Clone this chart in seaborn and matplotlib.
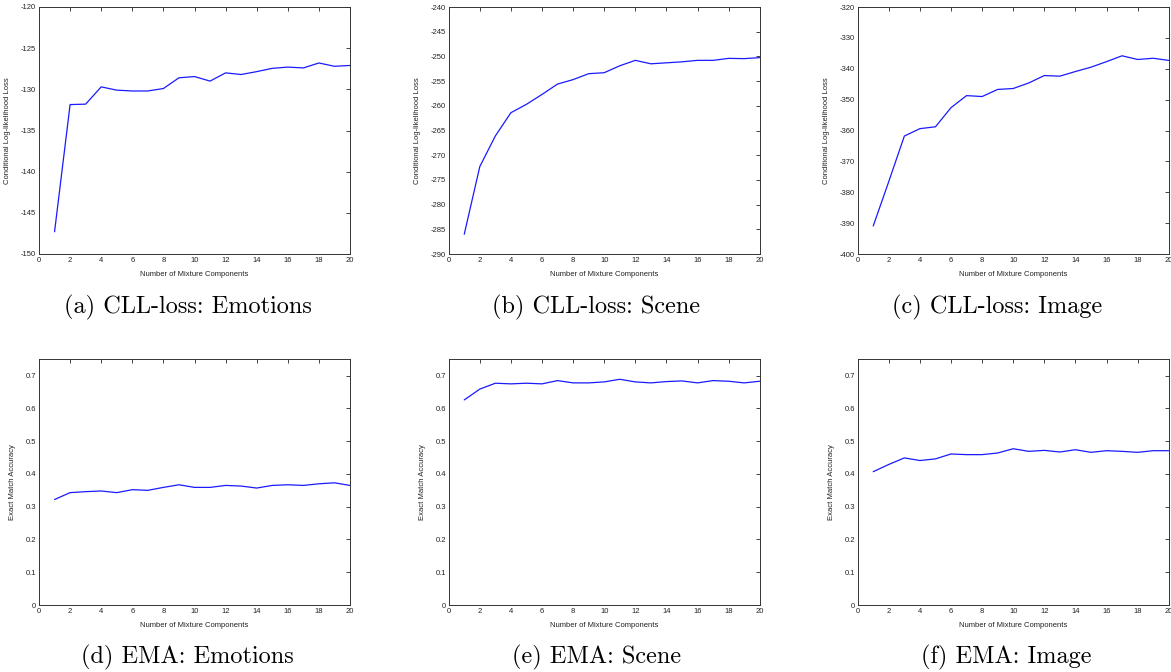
import matplotlib
matplotlib.use("Agg")
import matplotlib.pyplot as plt
import seaborn as sns
import numpy as np
import pandas as pd

components = list(range(1, 21))

cll_emotions = [-147.3, -131.85, -131.8, -129.7, -130.1, -130.2, -130.2, -129.9, -128.6, -128.45,
                -129.0, -128.0, -128.2, -127.85, -127.45, -127.3, -127.4, -126.8, -127.2, -127.1]
cll_scene = [-286.0, -272.3, -266.1, -261.4, -259.7, -257.7, -255.6, -254.7, -253.5, -253.3,
             -251.9, -250.8, -251.5, -251.3, -251.1, -250.8, -250.8, -250.4, -250.45, -250.25]
cll_image = [-390.9, -376.5, -361.8, -359.4, -358.8, -352.6, -348.7, -349.0, -346.7, -346.4,
             -344.6, -342.2, -342.4, -340.9, -339.5, -337.7, -335.8, -337.0, -336.6, -337.3]
ema_emotions = [0.322, 0.343, 0.346, 0.348, 0.343, 0.352, 0.350, 0.359, 0.367, 0.359,
                0.359, 0.365, 0.363, 0.357, 0.365, 0.367, 0.365, 0.370, 0.373, 0.365]
ema_scene = [0.626, 0.659, 0.677, 0.675, 0.677, 0.675, 0.685, 0.678, 0.678, 0.681,
             0.689, 0.681, 0.678, 0.682, 0.684, 0.678, 0.685, 0.683, 0.678, 0.683]
ema_image = [0.407, 0.429, 0.449, 0.441, 0.446, 0.461, 0.459, 0.459, 0.464, 0.477,
             0.469, 0.472, 0.467, 0.474, 0.466, 0.471, 0.469, 0.466, 0.471, 0.471]

captions = ["(a) CLL-loss: Emotions", "(b) CLL-loss: Scene", "(c) CLL-loss: Image",
            "(d) EMA: Emotions", "(e) EMA: Scene", "(f) EMA: Image"]
ylabels = ["Conditional Log-likelihood Loss"] * 3 + ["Exact Match Accuracy"] * 3
xlabel = "Number of Mixture Components"

sns.set_style("white")
plt.rcParams['font.family'] = ['Liberation Sans', 'DejaVu Sans']

W, H = 1171, 672
fig = plt.figure(figsize=(W / 100, H / 100), dpi=100)

lefts = [39, 448.7, 857.7]
aw = 311
rows = [(7, 254), (359.3, 605)]
ylims = [(-150, -120), (-290, -240), (-400, -320)] + [(0, 0.75)] * 3
yticks = [np.arange(-150, -119, 5), np.arange(-290, -239, 5), np.arange(-400, -319, 10)] + \
         [np.arange(0, 0.71, 0.1)] * 3
series = [cll_emotions, cll_scene, cll_image, ema_emotions, ema_scene, ema_image]
cap_x = [187.5, 596.5, 996.7, 187.5, 596.7, 1006.5]
cap_y = [307, 657]

for i in range(6):
    r, c = divmod(i, 3)
    top, bot = rows[r]
    ax = fig.add_axes([lefts[c] / W, (H - bot) / H, aw / W, (bot - top) / H])
    df = pd.DataFrame({"k": components, "v": series[i]})
    sns.lineplot(data=df, x="k", y="v", ax=ax, color=(0.1, 0.1, 1.0), linewidth=0.9)
    ax.set_xlim(0, 20)
    ax.set_ylim(*ylims[i])
    ax.set_xticks(np.arange(0, 21, 2))
    ax.set_yticks(yticks[i])
    if r == 0:
        ax.set_yticklabels([f"{int(v)}" for v in yticks[i]])
    else:
        ax.set_yticklabels(["0"] + [f"{v:.1f}" for v in yticks[i][1:]])
    ax.tick_params(direction="in", length=3, width=0.6, top=True, right=True,
                   labelsize=5.5, colors="#222222", pad=2)
    for s in ax.spines.values():
        s.set_color("#333333")
        s.set_linewidth(0.7)
    ax.set_xlabel(xlabel, fontsize=5.5, color="#222222")
    ax.set_ylabel(ylabels[i], fontsize=5.5, color="#222222")
    ax.xaxis.set_label_coords(0.5, -16.7 / (bot - top))
    ax.yaxis.set_label_coords(-(28 if r == 0 else 23) / aw, 0.5)
    fig.text(cap_x[i] / W, 1 - cap_y[r] / H, captions[i], family="cmr10", fontsize=17.5,
             ha="center", va="center", color="black")

fig.savefig("out.png", dpi=100)
